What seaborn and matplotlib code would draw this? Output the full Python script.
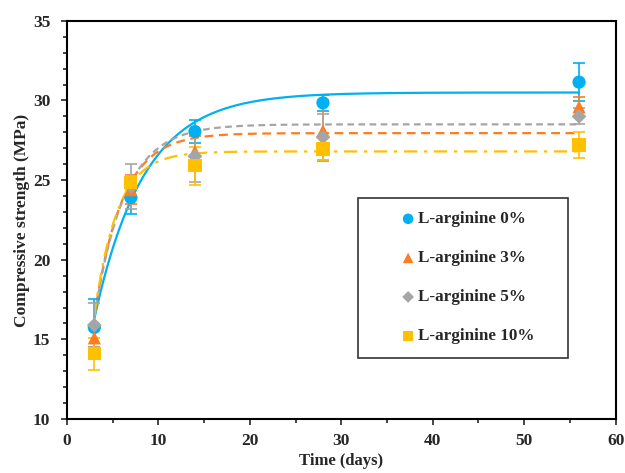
import numpy as np
import pandas as pd
import matplotlib
matplotlib.use("Agg")
import matplotlib.pyplot as plt
import seaborn as sns

# Measured compressive strength (MPa) at each curing age
days = [3, 7, 14, 28, 56]
labels = ["L-arginine 0%", "L-arginine 3%", "L-arginine 5%", "L-arginine 10%"]
strength_0 = [15.75, 23.9, 28.05, 29.85, 31.15]
strength_3 = [15.1, 24.4, 26.8, 28.1, 29.6]
strength_5 = [15.9, 24.6, 26.5, 27.7, 29.0]
strength_10 = [14.1, 24.85, 25.9, 26.95, 27.2]
err_0 = [1.8, 1.0, 0.7, 0.5, 1.2]
err_3 = [0.6, 0.9, 1.0, 1.9, 0.6]
err_5 = [1.4, 1.4, 1.6, 1.45, 0.5]
err_10 = [1.0, 0.4, 1.2, 0.7, 0.8]

# Fitted exponential model: y = plateau - (plateau - start) * exp(-rate * (t - 3))
fit_plateau = [30.5, 27.95, 28.5, 26.8]
fit_start = [16.3, 16.4, 16.4, 16.5]
fit_rate = [0.185, 0.33, 0.30, 0.40]

colors = ["#00B0F0", "#FF7C20", "#A5A5A5", "#FFC000"]
markers = ["o", "^", "D", "s"]
marker_sizes = [9.5, 9.5, 7.5, 9.5]
line_styles = ["-", (0, (4, 2.5)), (0, (3, 2)), (0, (6, 3, 1.5, 3))]

sns.set_style("ticks")
plt.rcParams["font.family"] = ["Liberation Serif", "DejaVu Serif"]
plt.rcParams["font.weight"] = "bold"

fig, ax = plt.subplots(figsize=(6.25, 4.73), dpi=100)
fig.subplots_adjust(left=0.107, right=0.985, top=0.956, bottom=0.114)

values = [strength_0, strength_3, strength_5, strength_10]
errors = [err_0, err_3, err_5, err_10]

t = np.linspace(3, 56, 300)
for i, lab in enumerate(labels):
    curve = fit_plateau[i] - (fit_plateau[i] - fit_start[i]) * np.exp(-fit_rate[i] * (t - 3))
    fit_df = pd.DataFrame({"Time": t, "Strength": curve})
    sns.lineplot(data=fit_df, x="Time", y="Strength", ax=ax, color=colors[i],
                 linestyle=line_styles[i], linewidth=1.6, zorder=2)

for i, lab in enumerate(labels):
    df = pd.DataFrame({"Time": days, "Strength": values[i], "Err": errors[i]})
    ax.errorbar(df["Time"], df["Strength"], yerr=df["Err"], fmt="none",
                ecolor=colors[i], elinewidth=1.2, capsize=4, capthick=1.2, zorder=3)
    sns.scatterplot(data=df, x="Time", y="Strength", ax=ax, color=colors[i],
                    marker=markers[i], s=marker_sizes[i] ** 2, edgecolor="none",
                    label=lab, zorder=4)

ax.set_xlim(0, 60)
ax.set_ylim(10, 35)
ax.set_xticks(range(0, 61, 10))
ax.set_yticks(range(10, 36, 5))
ax.set_xticks(range(0, 61, 5), minor=True)
ax.set_yticks(range(10, 36, 1), minor=True)
ax.set_xticklabels([str(v) for v in range(0, 61, 10)], fontsize=12.5, fontweight="bold")
ax.set_yticklabels([str(v) for v in range(10, 36, 5)], fontsize=12.5, fontweight="bold")
ax.tick_params(axis="both", which="major", direction="out", length=4, width=1.2,
               top=False, right=False)
ax.tick_params(axis="x", which="major", pad=6)
ax.tick_params(axis="y", which="major", pad=8)
ax.tick_params(axis="both", which="minor", direction="out", length=3, width=1.2,
               top=False, right=False)
for sp in ax.spines.values():
    sp.set_visible(True)
    sp.set_linewidth(1.5)
    sp.set_color("black")

ax.set_xlabel("Time (days)", fontsize=12, fontweight="bold", labelpad=3)
ax.set_ylabel("Compressive strength (MPa)", fontsize=12.5, fontweight="bold", labelpad=2)

leg = ax.legend(loc="lower left", bbox_to_anchor=(0.53, 0.153, 0.384, 0.397), mode="expand",
                borderaxespad=0, frameon=True, fancybox=False,
                prop={"size": 12.3, "weight": "bold"},
                handlelength=4.3, handletextpad=-1.6, labelspacing=1.35, borderpad=0.8,
                markerscale=0.8)
leg.get_frame().set_edgecolor("black")
leg.get_frame().set_linewidth(1.2)

fig.savefig("out.png", dpi=100)
